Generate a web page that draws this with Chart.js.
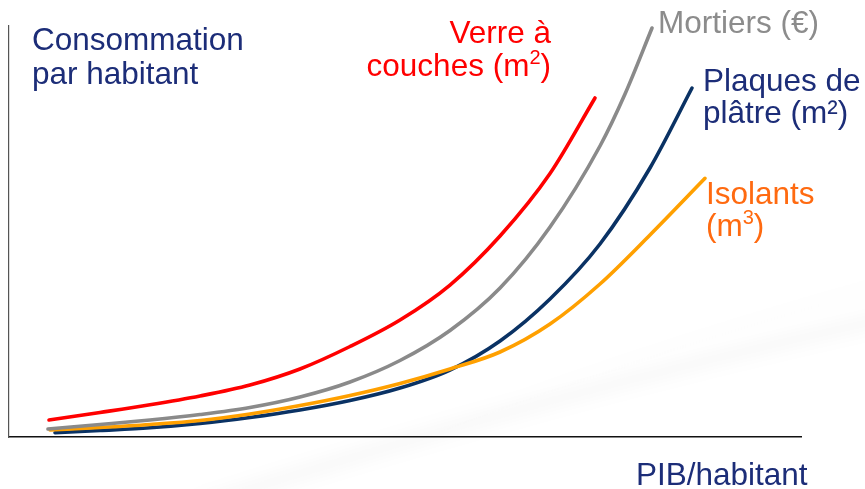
<!DOCTYPE html>
<html lang="fr">
<head>
<meta charset="utf-8">
<title>Consommation par habitant et PIB/habitant</title>
<script src="https://cdn.jsdelivr.net/npm/chart.js@4"></script>
<style>
  html, body { margin: 0; padding: 0; background: #ffffff; }
  #wrap { position: relative; width: 865px; height: 489px; }
</style>
</head>
<body>
<div id="wrap"><canvas id="c" width="865" height="489"></canvas></div>
<script>
// PIB par habitant (axe horizontal, indice 0-100) et consommation (indice 0-100)
const verreX    = [5.05, 11.49, 17.80, 24.12, 30.43, 36.74, 43.06, 49.37, 55.68, 62.00, 68.31, 73.99];
const verreY    = [4.14, 5.96, 7.83, 9.98, 12.65, 16.55, 22.02, 28.47, 36.98, 48.91, 64.11, 82.48];

const mortiersX = [4.92, 11.49, 17.80, 24.12, 30.43, 36.74, 43.06, 49.37, 55.68, 62.00, 68.31, 74.62, 77.78, 81.19];
const mortiersY = [1.95, 3.04, 4.14, 5.47, 7.18, 9.73, 13.38, 18.61, 25.91, 36.25, 51.09, 70.80, 83.45, 99.51];

const plaquesX  = [5.81, 11.49, 17.80, 24.12, 30.43, 36.74, 43.06, 49.37, 55.68, 62.00, 68.31, 74.62, 80.93, 86.24];
const plaquesY  = [1.05, 1.58, 2.24, 3.28, 4.74, 6.57, 8.88, 11.92, 16.30, 23.36, 33.58, 46.96, 65.45, 84.91];

const isolantsX = [5.18, 11.49, 17.80, 24.12, 30.43, 36.74, 43.06, 49.37, 55.68, 62.00, 68.31, 74.62, 80.93, 87.88];
const isolantsY = [1.70, 2.31, 3.04, 4.01, 5.60, 7.66, 10.10, 13.02, 16.55, 20.68, 27.49, 37.23, 49.15, 62.94];

const seriesNames = ['Verre à couches', 'Mortiers', 'Isolants', 'Plaques de plâtre'];

const pts = (xs, ys) => xs.map((x, i) => ({ x: x, y: ys[i] }));

const FONT = "'Liberation Sans', Arial, sans-serif";
const NAVY_TXT = '#1c2d78';

// Soft diagonal swoosh in the background
const swoosh = {
  id: 'swoosh',
  beforeDraw(chart) {
    const ctx = chart.ctx;
    ctx.save();
    ctx.filter = 'blur(8px)';
    ctx.lineCap = 'round';
    ctx.strokeStyle = 'rgba(0,0,0,0.028)';
    ctx.lineWidth = 16;
    ctx.beginPath();
    ctx.moveTo(200, 505);
    ctx.quadraticCurveTo(540, 395, 880, 320);
    ctx.stroke();
    ctx.strokeStyle = 'rgba(0,0,0,0.02)';
    ctx.lineWidth = 6;
    ctx.beginPath();
    ctx.moveTo(380, 455);
    ctx.quadraticCurveTo(620, 360, 880, 288);
    ctx.stroke();
    ctx.restore();
  }
};

// Axis titles and curve labels
function drawSup(ctx, parts, x, y, align, color) {
  // parts: [[text, isSup], ...]
  const big = '31.5px ' + FONT, small = '20px ' + FONT;
  let total = 0;
  const widths = parts.map(p => { ctx.font = p[1] ? small : big; const w = ctx.measureText(p[0]).width; total += w; return w; });
  let cx = align === 'right' ? x - total : x;
  ctx.fillStyle = color;
  ctx.textAlign = 'left';
  parts.forEach((p, i) => {
    ctx.font = p[1] ? small : big;
    ctx.fillText(p[0], cx, p[1] ? y - 12 : y);
    cx += widths[i];
  });
}

const labels = {
  id: 'labels',
  afterDraw(chart) {
    const ctx = chart.ctx;
    ctx.save();
    ctx.textBaseline = 'alphabetic';
    ctx.font = '31.5px ' + FONT;
    ctx.fillStyle = NAVY_TXT;
    ctx.textAlign = 'left';
    ctx.fillText('Consommation', 32, 50);
    ctx.fillText('par habitant', 32, 84);
    ctx.fillText('PIB/habitant', 636, 485);

    ctx.fillStyle = '#ff0000';
    ctx.textAlign = 'right';
    ctx.fillText('Verre à', 551, 43);
    drawSup(ctx, [['couches (m', false], ['2', true], [')', false]], 551, 76, 'right', '#ff0000');

    ctx.textAlign = 'left';
    ctx.font = '31.5px ' + FONT;
    ctx.fillStyle = '#8c8c8c';
    ctx.fillText('Mortiers (€)', 658, 33);

    ctx.fillStyle = NAVY_TXT;
    ctx.fillText('Plaques de', 703, 91);
    ctx.fillText('plâtre (m²)', 703, 123);

    ctx.fillStyle = '#ff6a10';
    ctx.fillText('Isolants', 706, 204);
    drawSup(ctx, [['(m', false], ['3', true], [')', false]], 706, 236, 'left', '#ff6a10');
    ctx.restore();
  }
};

const common = { borderWidth: 3.6, pointRadius: 0, fill: false, cubicInterpolationMode: 'monotone', borderCapStyle: 'round', clip: 8 };

new Chart(document.getElementById('c'), {
  type: 'line',
  data: {
    datasets: [
      Object.assign({ label: seriesNames[0], data: pts(verreX, verreY), borderColor: '#ff0000' }, common),
      Object.assign({ label: seriesNames[1], data: pts(mortiersX, mortiersY), borderColor: '#8a8a8a' }, common),
      Object.assign({ label: seriesNames[2], data: pts(isolantsX, isolantsY), borderColor: '#ffa000' }, common),
      Object.assign({ label: seriesNames[3], data: pts(plaquesX, plaquesY), borderColor: '#0a3264' }, common)
    ]
  },
  options: {
    responsive: false,
    animation: false,
    layout: { padding: { left: 9, top: 26, right: 64, bottom: 52 } },
    plugins: { legend: { display: false }, tooltip: { enabled: false }, title: { display: false } },
    scales: {
      x: {
        type: 'linear', min: 0, max: 100,
        grid: { display: false, drawTicks: false },
        ticks: { display: false },
        border: { display: true, color: '#111111', width: 1.5 },
        afterFit(s) { s.height = 0; }
      },
      y: {
        type: 'linear', min: 0, max: 100,
        grid: { display: false, drawTicks: false },
        ticks: { display: false },
        border: { display: true, color: '#555555', width: 1.2 },
        afterFit(s) { s.width = 0; }
      }
    }
  },
  plugins: [swoosh, labels]
});
</script>
</body>
</html>
